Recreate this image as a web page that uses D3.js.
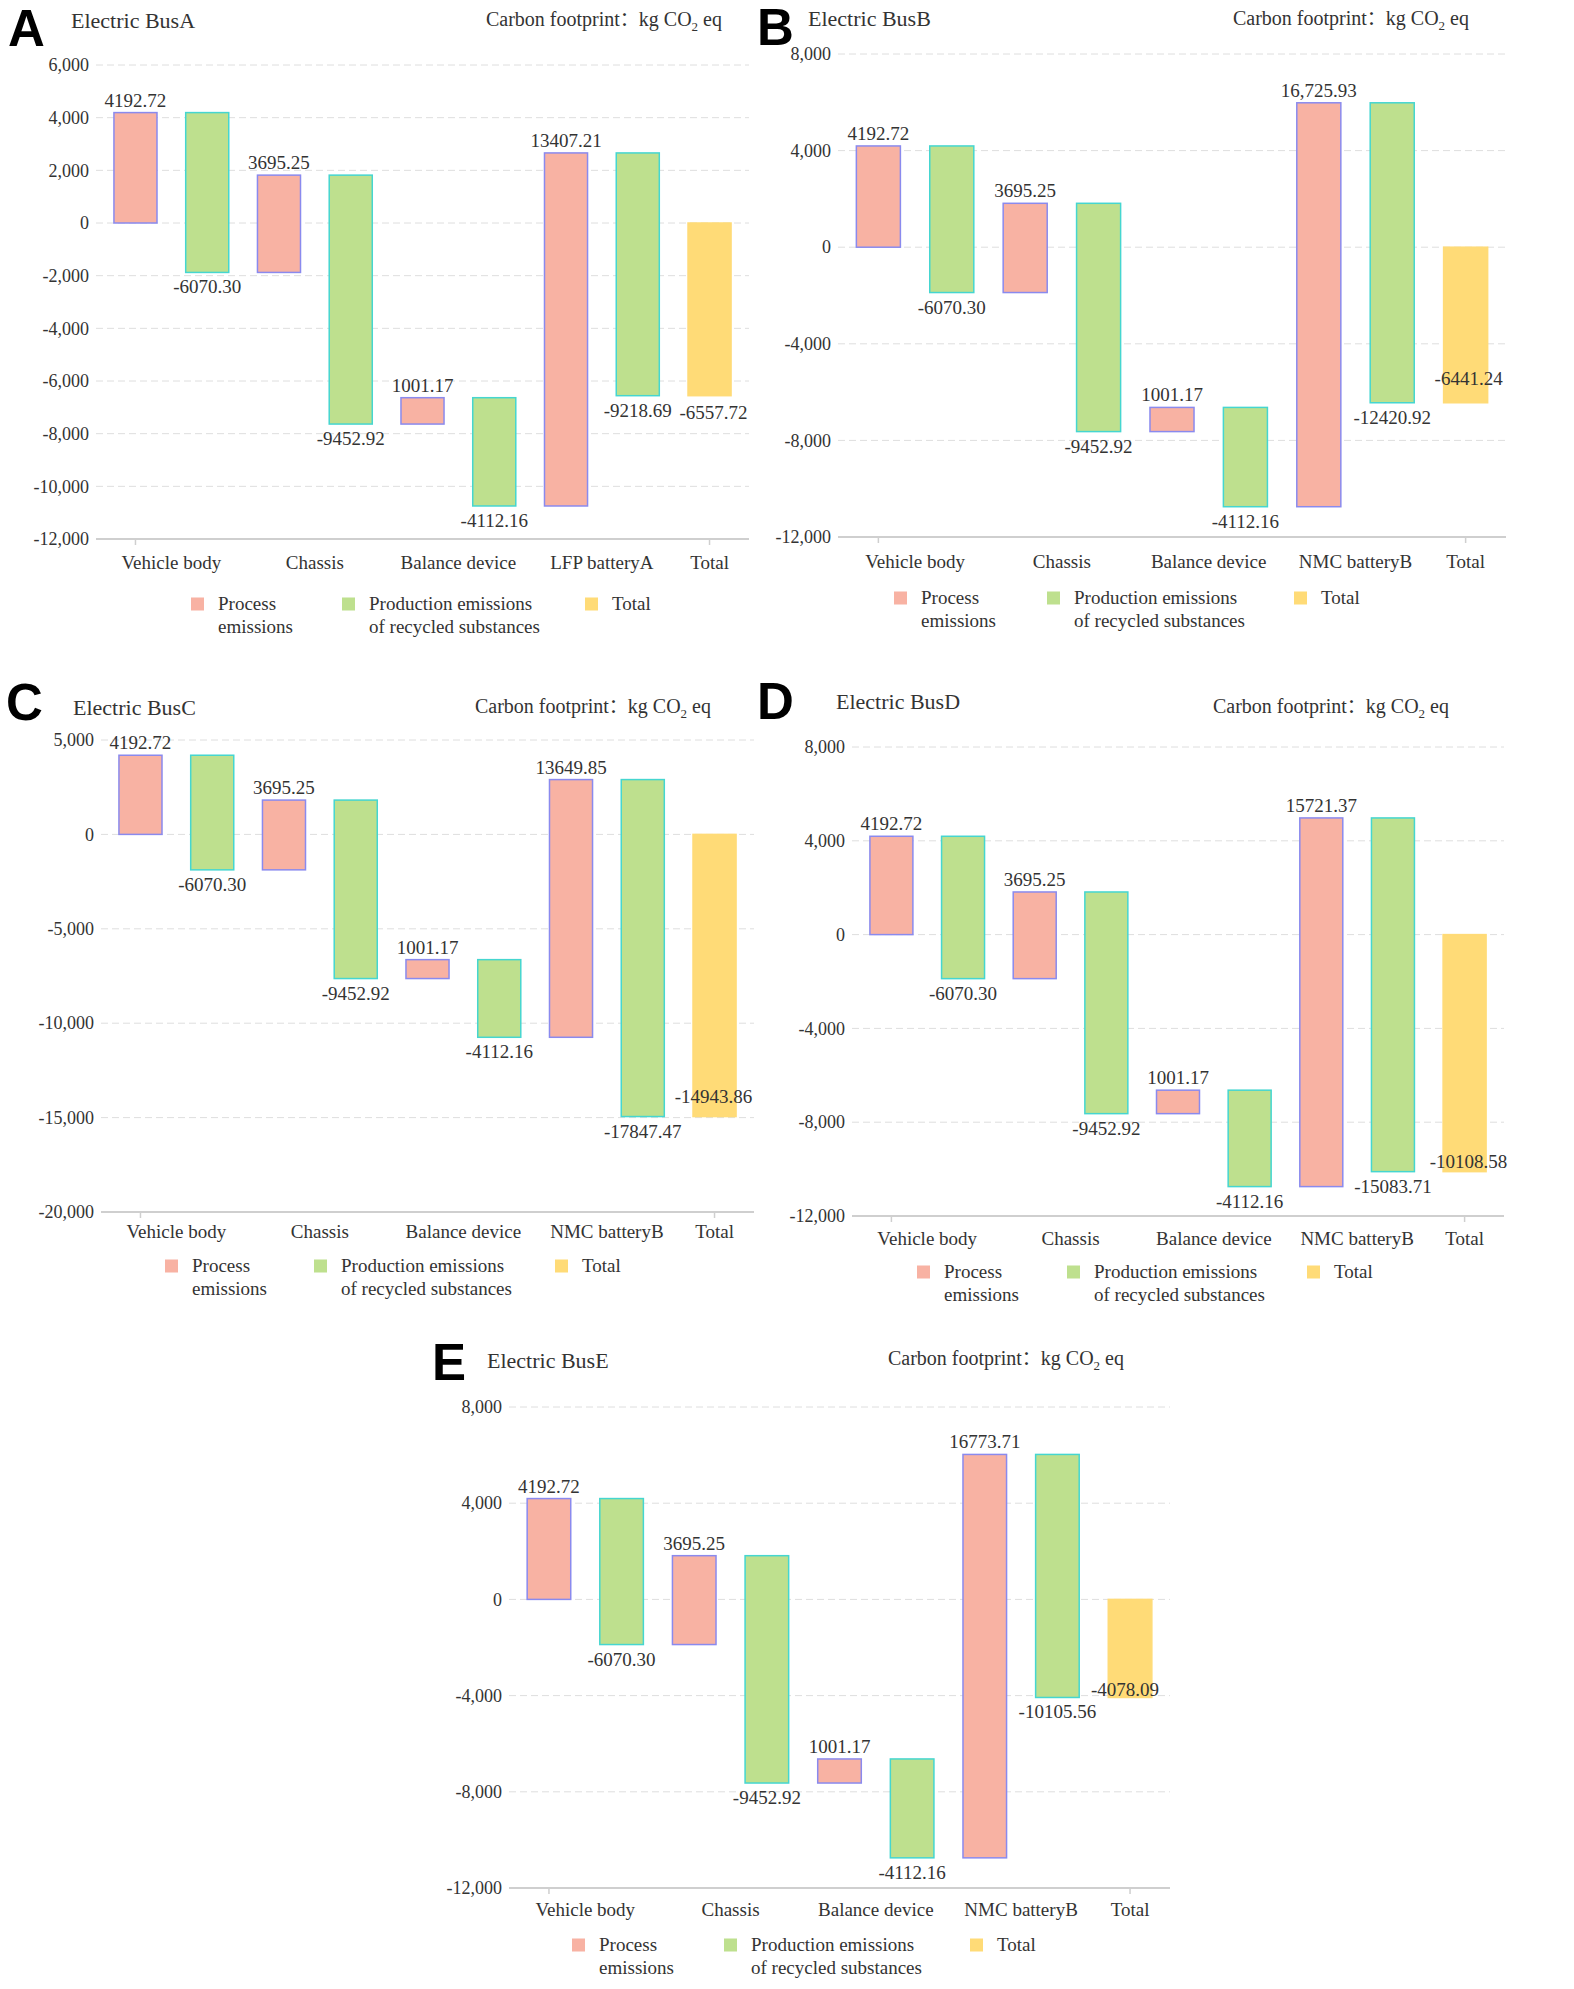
<!DOCTYPE html>
<html>
<head>
<meta charset="utf-8">
<script src="https://cdn.jsdelivr.net/npm/d3@7"></script>
<style>
  body { margin: 0; background: #fff; }
  svg { display: block; }
  text { font-family: "Liberation Serif", "Times New Roman", serif; fill: #333; }
</style>
</head>
<body>
<script>
// components shared by every bus (kg CO2 eq)
var components = ["Vehicle body", "Chassis", "Balance device"];
var processCommon = [4192.72, 3695.25, 1001.17];
var recycledCommon = [-6070.30, -9452.92, -4112.16];

// per bus
var panelIds = ["A", "B", "C", "D", "E"];
var busNames = ["Electric BusA", "Electric BusB", "Electric BusC", "Electric BusD", "Electric BusE"];
var batteryNames = ["LFP batteryA", "NMC batteryB", "NMC batteryB", "NMC batteryB", "NMC batteryB"];
var batteryProcess = [13407.21, 16725.93, 13649.85, 15721.37, 16773.71];
var batteryRecycled = [-9218.69, -12420.92, -17847.47, -15083.71, -10105.56];
var totals = [-6557.72, -6441.24, -14943.86, -10108.58, -4078.09];
var batteryLabelFormat = [".2f", ",.2f", ".2f", ".2f", ".2f"];

// y axis ticks
var yTicksA = [-12000, -10000, -8000, -6000, -4000, -2000, 0, 2000, 4000, 6000];
var yTicksB = [-12000, -8000, -4000, 0, 4000, 8000];
var yTicksC = [-20000, -15000, -10000, -5000, 0, 5000];
var yTicksD = [-12000, -8000, -4000, 0, 4000, 8000];
var yTicksE = [-12000, -8000, -4000, 0, 4000, 8000];
var yTicks = [yTicksA, yTicksB, yTicksC, yTicksD, yTicksE];

var legendLines = [["Process", "emissions"], ["Production emissions", "of recycled substances"], ["Total"]];

var colors = {
  process: { fill: "#f8b2a3", stroke: "#8a8aee" },
  recycled: { fill: "#bee08e", stroke: "#45d6d0" },
  total: { fill: "#ffdb77", stroke: "#ffdb77" }
};

// layout of each panel (pixels)
var layouts = [
  { left: 96, right: 749, top: 65, bottom: 539, letter: [8, 46], title: [71, 28], unit: [722, 26],
    xLabelY: 569, legendY: 604, legendX: [191, 342, 585], totalDx: 4, totalDy: 23 },
  { left: 838, right: 1506, top: 54, bottom: 537, letter: [757, 45], title: [808, 26], unit: [1469, 25],
    xLabelY: 568, legendY: 598, legendX: [894, 1047, 1294], totalDx: 3, totalDy: -18 },
  { left: 101, right: 754, top: 740, bottom: 1212, letter: [6, 720], title: [73, 715], unit: [711, 713],
    xLabelY: 1238, legendY: 1266, legendX: [165, 314, 555], totalDx: -1, totalDy: -14 },
  { left: 852, right: 1504, top: 747, bottom: 1216, letter: [757, 719], title: [836, 709], unit: [1449, 713],
    xLabelY: 1245, legendY: 1272, legendX: [917, 1067, 1307], totalDx: 4, totalDy: -4 },
  { left: 509, right: 1170, top: 1407, bottom: 1888, letter: [432, 1380], title: [487, 1368], unit: [1124, 1365],
    xLabelY: 1916, legendY: 1945, legendX: [572, 724, 970], totalDx: -5, totalDy: -1 }
];

var locale = d3.formatLocale({ decimal: ".", thousands: ",", grouping: [3], currency: ["", ""], minus: "-" });

var svg = d3.select("body").append("svg")
  .attr("width", 1574)
  .attr("height", 1989);

panelIds.forEach(function (id, k) {
  var L = layouts[k];
  var g = svg.append("g");

  // build the waterfall steps
  var steps = [];
  var cum = 0;
  for (var i = 0; i < 4; i++) {
    var p = i < 3 ? processCommon[i] : batteryProcess[k];
    var r = i < 3 ? recycledCommon[i] : batteryRecycled[k];
    steps.push({ type: "process", y0: cum, y1: cum + p, value: p, fmt: i < 3 ? ".2f" : batteryLabelFormat[k] });
    cum += p;
    steps.push({ type: "recycled", y0: cum, y1: cum + r, value: r, fmt: ".2f" });
    cum += r;
  }
  steps.push({ type: "total", y0: 0, y1: totals[k], value: totals[k], fmt: ".2f" });

  var ticks = yTicks[k];
  var y = d3.scaleLinear().domain(d3.extent(ticks)).range([L.bottom, L.top]);
  var x = d3.scaleBand().domain(d3.range(steps.length)).range([L.left, L.right])
    .paddingInner(0.4).paddingOuter(0.25);
  var bw = x.bandwidth();

  // grid lines
  g.append("g").selectAll("line")
    .data(ticks.slice(1))
    .enter().append("line")
    .attr("x1", L.left).attr("x2", L.right)
    .attr("y1", function (d) { return y(d); })
    .attr("y2", function (d) { return y(d); })
    .attr("stroke", "#dedede")
    .attr("stroke-dasharray", "7,4");

  // y axis labels
  var yAxis = g.append("g")
    .attr("transform", "translate(" + L.left + ",0)")
    .call(d3.axisLeft(y).tickValues(ticks).tickSize(0).tickPadding(7).tickFormat(locale.format(",")));
  yAxis.select(".domain").remove();
  yAxis.selectAll("text")
    .style("font-family", "'Liberation Serif', serif")
    .style("font-size", "18px")
    .attr("fill", "#333");

  // x axis line and end ticks
  g.append("line")
    .attr("x1", L.left).attr("x2", L.right)
    .attr("y1", L.bottom).attr("y2", L.bottom)
    .attr("stroke", "#cfcfcf").attr("stroke-width", 2);
  g.append("g").selectAll("line")
    .data([0, steps.length - 1])
    .enter().append("line")
    .attr("x1", function (d) { return x(d) + bw / 2; })
    .attr("x2", function (d) { return x(d) + bw / 2; })
    .attr("y1", L.bottom).attr("y2", L.bottom + 6)
    .attr("stroke", "#cfcfcf").attr("stroke-width", 1.5);

  // bars
  g.append("g").selectAll("rect")
    .data(steps)
    .enter().append("rect")
    .attr("x", function (d, i) { return x(i); })
    .attr("y", function (d) { return y(Math.max(d.y0, d.y1)); })
    .attr("width", bw)
    .attr("height", function (d) { return Math.abs(y(d.y0) - y(d.y1)); })
    .attr("fill", function (d) { return colors[d.type].fill; })
    .attr("stroke", function (d) { return colors[d.type].stroke; })
    .attr("stroke-width", 1.5);

  // value labels
  g.append("g").selectAll("text")
    .data(steps)
    .enter().append("text")
    .attr("text-anchor", "middle")
    .style("font-size", "19px")
    .attr("x", function (d, i) { return x(i) + bw / 2 + (d.type === "total" ? L.totalDx : 0); })
    .attr("y", function (d) {
      if (d.type === "process") return y(Math.max(d.y0, d.y1)) - 6;
      if (d.type === "recycled") return y(Math.min(d.y0, d.y1)) + 21;
      return y(Math.min(d.y0, d.y1)) + L.totalDy;
    })
    .text(function (d) { return locale.format(d.fmt)(d.value); });

  // category labels
  var cats = components.concat([batteryNames[k], "Total"]);
  g.append("g").selectAll("text")
    .data(cats)
    .enter().append("text")
    .attr("text-anchor", "middle")
    .style("font-size", "19px")
    .attr("x", function (d, i) {
      if (i === 4) return x(8) + bw / 2;
      return (x(2 * i) + x(2 * i + 1) + bw) / 2;
    })
    .attr("y", L.xLabelY)
    .text(function (d) { return d; });

  // panel letter, title, unit
  g.append("text")
    .attr("x", L.letter[0]).attr("y", L.letter[1])
    .style("font-family", "'Liberation Sans', Arial, sans-serif")
    .style("font-weight", "bold")
    .style("font-size", "51px")
    .style("fill", "#000")
    .text(id);
  g.append("text")
    .attr("x", L.title[0]).attr("y", L.title[1])
    .style("font-size", "22px")
    .text(busNames[k]);
  var unit = g.append("text")
    .attr("x", L.unit[0]).attr("y", L.unit[1])
    .attr("text-anchor", "end")
    .style("font-size", "20px");
  unit.append("tspan").text("Carbon footprint");
  unit.append("tspan").style("font-family", "'Noto Sans CJK SC', sans-serif").style("font-size", "19px").text("：");
  unit.append("tspan").text("kg CO");
  unit.append("tspan").attr("dy", 5).style("font-size", "13px").text("2");
  unit.append("tspan").attr("dy", -5).text(" eq");

  // legend
  var types = ["process", "recycled", "total"];
  types.forEach(function (t, j) {
    var lx = L.legendX[j];
    g.append("rect")
      .attr("x", lx).attr("y", L.legendY - 6.5)
      .attr("width", 13).attr("height", 13)
      .attr("fill", colors[t].fill);
    legendLines[j].forEach(function (line, li) {
      g.append("text")
        .attr("x", lx + 27)
        .attr("y", L.legendY + 6 + li * 23)
        .style("font-size", "19px")
        .text(line);
    });
  });
});
</script>
</body>
</html>
